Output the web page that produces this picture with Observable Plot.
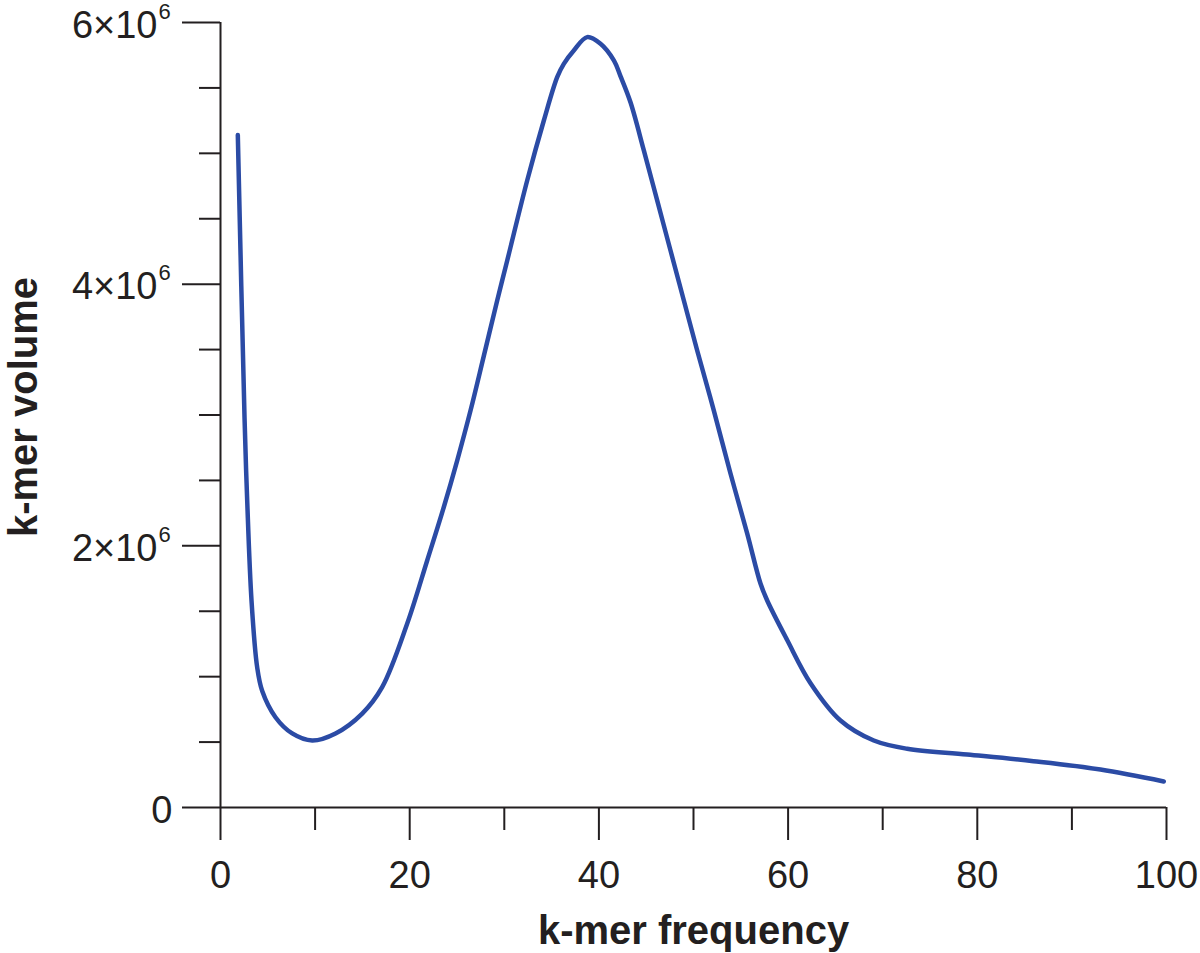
<!DOCTYPE html>
<html>
<head>
<meta charset="utf-8">
<script src="https://cdn.jsdelivr.net/npm/d3@7"></script>
<script src="https://cdn.jsdelivr.net/npm/@observablehq/plot@0.6"></script>
<style>
  html, body { margin: 0; padding: 0; background: #ffffff; }
  #chart svg { display: block; }
</style>
</head>
<body>
<div id="chart"></div>
<script>
// k-mer frequency (x) and k-mer volume (y, millions)
const freq = [1.83, 2.54, 2.82, 3.28, 3.88, 4.41, 5.81, 7.58, 9.69, 12.16, 14.98, 17.09,
  19.74, 21.85, 23.6, 25.02, 26.43, 27.83, 29.25, 30.31, 32.42, 34.18, 35.59, 36.29,
  37.35, 38.76, 40.17, 41.58, 42.28, 43.34, 44.75, 46.16, 47.57, 48.98, 50.39, 52.15,
  53.91, 55.68, 57.08, 57.79, 59.9, 62.37, 65.54, 69.06, 72.59, 78.93, 85.94, 93.02, 99.71];
const volumeM = [5.14, 2.98, 2.35, 1.58, 1.07, 0.89, 0.69, 0.566, 0.512, 0.566, 0.718, 0.92,
  1.406, 1.888, 2.295, 2.652, 3.034, 3.45, 3.875, 4.181, 4.792, 5.251, 5.582, 5.684,
  5.786, 5.888, 5.837, 5.71, 5.59, 5.39, 5.022, 4.64, 4.257, 3.875, 3.493, 3.034,
  2.553, 2.094, 1.712, 1.582, 1.28, 0.95, 0.665, 0.512, 0.449, 0.405, 0.354, 0.29, 0.199];

const xMajor = [0, 20, 40, 60, 80, 100];
const xMinor = [10, 30, 50, 70, 90];
const yMajor = [0, 2e6, 4e6, 6e6];
const yMinor = [0.5e6, 1e6, 1.5e6, 2.5e6, 3e6, 3.5e6, 4.5e6, 5e6, 5.5e6];
const yLabelZero = [0];
const yLabelMant = [2e6, 4e6, 6e6];
const yExponent = "6";
const xTitle = "k-mer frequency";
const yTitle = "k-mer volume";

const data = freq.map((f, i) => ({f, v: volumeM[i] * 1e6}));

const ink = "#231f20";
const font = "'Liberation Sans', Arial, Helvetica, sans-serif";

const chart = Plot.plot({
  width: 1200,
  height: 953,
  marginLeft: 220,
  marginRight: 34,
  marginTop: 22,
  marginBottom: 146,
  style: {fontFamily: font, background: "#ffffff", color: ink},
  x: {domain: [0, 100]},
  y: {domain: [0, 6e6]},
  marks: [
    Plot.axisY({ticks: yMajor, tickSize: 38, tickFormat: () => "", label: null, stroke: ink, strokeWidth: 2}),
    Plot.axisY({ticks: yMinor, tickSize: 21, tickFormat: () => "", label: null, stroke: ink, strokeWidth: 2}),
    Plot.axisX({ticks: xMajor, tickSize: 33, tickFormat: () => "", label: null, stroke: ink, strokeWidth: 2}),
    Plot.axisX({ticks: xMinor, tickSize: 23, tickFormat: () => "", label: null, stroke: ink, strokeWidth: 2}),
    Plot.ruleX([0], {y1: 0, y2: 6e6, stroke: ink, strokeWidth: 2}),
    Plot.ruleY([0], {x1: 0, x2: 100, stroke: ink, strokeWidth: 2}),
    // x tick labels
    Plot.text(xMajor, {x: d => d, frameAnchor: "bottom", dy: 68, text: d => String(d),
      textAnchor: "middle", lineAnchor: "middle", fontSize: 38, fill: ink}),
    // y tick labels
    Plot.text(yLabelZero, {y: d => d, frameAnchor: "left", dx: -48, dy: 3, text: d => String(d),
      textAnchor: "end", lineAnchor: "middle", fontSize: 38, fill: ink}),
    Plot.text(yLabelMant, {y: d => d, frameAnchor: "left", dx: -63, dy: 3, text: d => `${d / 1e6}×10`,
      textAnchor: "end", lineAnchor: "middle", fontSize: 38, fill: ink}),
    Plot.text(yLabelMant, {y: d => d, frameAnchor: "left", dx: -62, dy: -11, text: () => yExponent,
      textAnchor: "start", lineAnchor: "middle", fontSize: 22, fill: ink}),
    // axis titles
    Plot.text([xTitle], {frameAnchor: "bottom", dy: 124, text: d => d, fontSize: 40,
      textAnchor: "middle", lineAnchor: "middle", fontWeight: "bold", fill: ink}),
    Plot.text([yTitle], {frameAnchor: "left", dx: -196, dy: -8, rotate: -90, text: d => d,
      textAnchor: "middle", lineAnchor: "middle", fontSize: 40, fontWeight: "bold", fill: ink}),
    // curve
    Plot.line(data, {x: "f", y: "v", stroke: "#2b4ba5", strokeWidth: 4.5, curve: "catmull-rom"})
  ]
});
document.getElementById("chart").appendChild(chart);
</script>
</body>
</html>
